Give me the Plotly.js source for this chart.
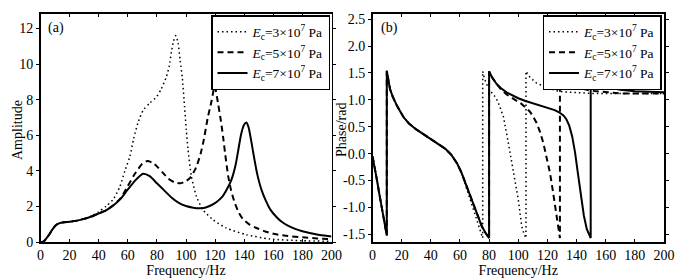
<!DOCTYPE html>
<html><head><meta charset="utf-8">
<script src="https://cdn.plot.ly/plotly-3.0.1.min.js"></script>
<style>html,body{margin:0;padding:0;background:#fff}#chart{width:685px;height:279px}</style>
</head><body><div id="chart"></div>
<script>
// ---------- legend / tick labels ----------
const seriesNames = ['<i>E</i><sub>c</sub>=3×10<sup>7</sup> Pa',
                     '<i>E</i><sub>c</sub>=5×10<sup>7</sup> Pa',
                     '<i>E</i><sub>c</sub>=7×10<sup>7</sup> Pa'];
const phaseTickVals = [-1.5,-1.0,-0.5,0.0,0.5,1.0,1.5,2.0,2.5];
const phaseTickText = ['-1.5','-1.0','-0.5','0.0','0.5','1.0','1.5','2.0','2.5'];

// ---------- (a) amplitude ----------
const ampF3 = [0,2,4,6,8,10,12,15,20,25,30,35,40,45,50,54.5,58,61.4,64,67,70.5,75,79.7,83,86.6,88.5,90,91.5,93,94.5,96,97.5,99,100.2,101.4,103.7,107.2,111.7,118.6,127.8,141.5,157.5,180,200];
const ampA3 = [0,0.02,0.2,0.42,0.68,0.9,1.02,1.09,1.14,1.2,1.31,1.46,1.7,2.0,2.4,3.1,4.0,4.8,5.8,6.7,7.4,7.8,8.15,8.6,9.3,9.9,10.7,11.3,11.6,11.2,10.2,9.2,7.6,6.3,5.2,3.7,2.55,1.8,1.25,0.78,0.41,0.17,0.07,0.04];

const ampF5 = [0,2,4,6,8,10,12,15,20,25,30,35,40,45,50,55,60,65,70,73.5,77,80,84,88,92,96,100,103,107,110,112,115,117.5,119.7,122,124,125.5,127,129,131,133.5,136,139,143,148,155,162,170,180,190,200];
const ampA5 = [0,0.02,0.2,0.42,0.68,0.9,1.02,1.09,1.14,1.2,1.3,1.43,1.6,1.78,2.07,2.45,3.15,3.85,4.4,4.55,4.45,4.25,3.9,3.55,3.36,3.3,3.42,3.62,4.2,4.95,5.65,7.0,7.9,8.76,7.8,6.8,5.9,4.9,3.7,2.9,2.2,1.7,1.3,1.02,0.8,0.58,0.43,0.34,0.26,0.2,0.16];

const ampF7 = [0,2,4,6,8,10,12,15,20,25,30,35,40,45,50,55,60,65,70.5,75,80,85,90,95,100,105,109,113,117,121,125,128,131,134,136,138,140,141.5,143,145,147,149,152,155,158,162,166,170,175,180,185,190,195,200];
const ampA7 = [0,0.02,0.2,0.42,0.68,0.9,1.02,1.09,1.14,1.2,1.3,1.43,1.6,1.78,2.05,2.42,2.95,3.45,3.83,3.7,3.3,2.9,2.5,2.2,2.02,1.93,1.9,1.93,2.05,2.25,2.55,2.95,3.45,4.3,5.2,6.1,6.6,6.72,6.45,5.6,4.65,3.8,2.9,2.3,1.82,1.42,1.12,0.92,0.74,0.6,0.5,0.42,0.36,0.31];

// ---------- (b) phase ----------
const phF3 = [0,1.5,3,4.5,6.3,8,9.8,9.8,11,12,14,17,21,25,30,35,40,45,50,54,58,61,64,68,71,73.5,75.6,75.6,77,79,81,83,85,87,89.8,93.2,96.6,100,102.4,104,105.3,105.3,108,112.6,117,121.8,126,130.9,140,150,170,200];
const phP3 = [-0.05,-0.25,-0.48,-0.72,-0.98,-1.25,-1.52,1.54,1.33,1.2,1.05,0.88,0.69,0.56,0.45,0.36,0.28,0.19,0.09,-0.02,-0.18,-0.35,-0.6,-0.93,-1.2,-1.42,-1.57,1.53,1.38,1.25,1.16,1.1,1.02,0.9,0.69,0.2,-0.3,-0.85,-1.35,-1.5,-1.57,1.53,1.42,1.31,1.26,1.21,1.17,1.15,1.13,1.12,1.12,1.12];

const phF5 = [0,1.5,3,4.5,6.3,8,9.8,9.8,11,12,14,17,21,25,30,35,40,45,50,54,58,61,64,68,71.5,75,77.5,80,80,82,85,88,92,96,99,102,105.8,108,110,112.6,115,117.2,119,121.8,123.5,125.2,127,128.6,128.6,130,133,136,140,145,150,160,170,180,200];
const phP5 = [-0.05,-0.25,-0.48,-0.72,-0.98,-1.25,-1.52,1.54,1.33,1.2,1.05,0.88,0.69,0.56,0.45,0.36,0.28,0.19,0.09,-0.02,-0.18,-0.35,-0.57,-0.87,-1.12,-1.35,-1.47,-1.57,1.53,1.42,1.3,1.2,1.1,1.03,0.99,0.93,0.84,0.78,0.7,0.57,0.4,0.2,-0.02,-0.36,-0.65,-0.94,-1.3,-1.57,1.53,1.47,1.38,1.31,1.25,1.2,1.17,1.14,1.12,1.12,1.12];

const phF7 = [0,1.5,3,4.5,6.3,8,9.8,9.8,11,12,14,17,21,25,30,35,40,45,50,54,58,61,64,68,71.5,75,77.5,80,80,82,85,88,92,96,100,105,110,115,120,125,128,131,133,135,137,139,141,143,145,147,149.7,149.7,152,155,158,162,166,170,180,190,200];
const phP7 = [-0.05,-0.25,-0.48,-0.72,-0.98,-1.25,-1.52,1.54,1.33,1.2,1.05,0.88,0.69,0.56,0.45,0.36,0.28,0.19,0.09,-0.02,-0.18,-0.35,-0.57,-0.87,-1.12,-1.35,-1.47,-1.57,1.53,1.42,1.3,1.22,1.14,1.08,1.03,0.98,0.94,0.9,0.86,0.81,0.77,0.71,0.64,0.52,0.32,0.02,-0.38,-0.8,-1.15,-1.4,-1.57,1.53,1.45,1.36,1.3,1.25,1.21,1.19,1.16,1.15,1.14];

// ---------- styling ----------
const lineStyles = [
  {color:'#000', width:1.5, dash:'1.5px,3px'},
  {color:'#000', width:2, dash:'6px,4px'},
  {color:'#000', width:2, dash:'solid'}
];
const FONT = '"Liberation Serif", "Times New Roman", serif';
const FS = 14;

const ampF = [ampF3, ampF5, ampF7], ampA = [ampA3, ampA5, ampA7];
const phF = [phF3, phF5, phF7], phP = [phP3, phP5, phP7];

const traces = [];
for (let i = 0; i < 3; i++) {
  traces.push({x: ampF[i], y: ampA[i], type:'scatter', mode:'lines', name: seriesNames[i],
    line: Object.assign({shape:'spline', smoothing:0.6}, lineStyles[i]), xaxis:'x', yaxis:'y', legend:'legend'});
}
for (let i = 0; i < 3; i++) {
  traces.push({x: phF[i], y: phP[i], type:'scatter', mode:'lines', name: seriesNames[i],
    line: Object.assign({shape:'linear'}, lineStyles[i]), xaxis:'x2', yaxis:'y2', legend:'legend2'});
}

const W = 685, H = 279;
const txt = {family:FONT, size:FS, color:'#000'};
const axX = {range:[0,200], dtick:20, ticks:'inside', ticklen:3, tickwidth:1, tickcolor:'#000',
  showline:true, linecolor:'#000', linewidth:1.5, mirror:'ticks', showgrid:false, zeroline:false,
  tickfont:txt, title:{text:'Frequency/Hz', font:txt, standoff:0}};
const axY = {ticks:'outside', ticklen:3, tickcolor:'#000', showline:true, linecolor:'#000', linewidth:1.5,
  mirror:'ticks', showgrid:false, zeroline:false, tickfont:txt, domain:[1-242/H, 1-13.5/H]};
const legendBase = {bgcolor:'#fff', bordercolor:'#000', borderwidth:1.5, xanchor:'right', yanchor:'top',
  font:{family:FONT, size:13.5, color:'#000'}, tracegroupgap:0, itemwidth:30, traceorder:'normal'};

const layout = {
  width: W, height: H, margin:{l:0, r:0, t:0, b:0}, paper_bgcolor:'#fff', plot_bgcolor:'#fff',
  font:txt,
  xaxis: Object.assign({}, axX, {domain:[40.5/W, 331.5/W], anchor:'y'}),
  xaxis2: Object.assign({}, axX, {domain:[372.5/W, 664/W], anchor:'y2'}),
  yaxis: Object.assign({}, axY, {range:[0,12.84], dtick:2, anchor:'x'}),
  yaxis2: Object.assign({}, axY, {range:[-1.643,2.606], tickvals:phaseTickVals, ticktext:phaseTickText, anchor:'x2'}),
  legend: Object.assign({}, legendBase, {x:330/W, y:1-15/H}),
  legend2: Object.assign({}, legendBase, {x:661.5/W, y:1-15/H}),
  annotations: [
    {text:'(a)', xref:'paper', yref:'paper', x:56/W, y:1-27.7/H, xanchor:'center', yanchor:'middle', showarrow:false, font:txt},
    {text:'(b)', xref:'paper', yref:'paper', x:389/W, y:1-27.7/H, xanchor:'center', yanchor:'middle', showarrow:false, font:txt},
    {text:'Amplitude', xref:'paper', yref:'paper', x:17/W, y:1-130/H, xanchor:'center', yanchor:'middle', textangle:-90, showarrow:false, font:txt},
    {text:'Phase/rad', xref:'paper', yref:'paper', x:341/W, y:1-130/H, xanchor:'center', yanchor:'middle', textangle:-90, showarrow:false, font:txt}
  ],
  showlegend: true
};

Plotly.newPlot('chart', traces, layout, {staticPlot:true, displayModeBar:false});
</script>
</body></html>
